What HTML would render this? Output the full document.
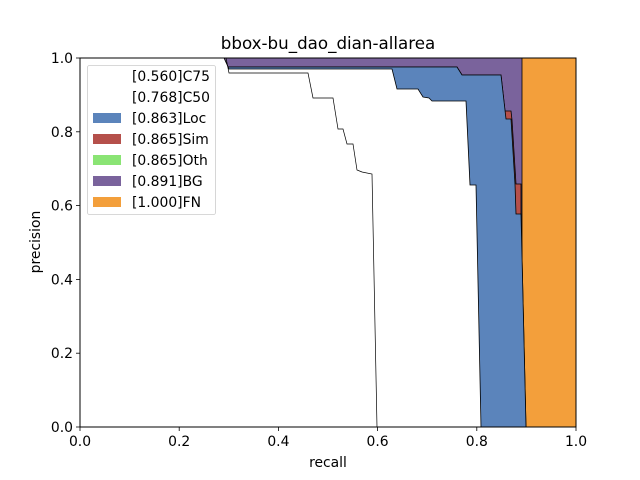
<!DOCTYPE html>
<html><head><meta charset="utf-8"><style>body{margin:0;background:#fff}svg{display:block}text{font-family:"DejaVu Sans","Liberation Sans",sans-serif;fill:#000}</style></head><body>
<svg width="640" height="480" viewBox="0 0 640 480">
<rect x="80" y="58" width="496" height="369" fill="#f39f3b"/>
<polygon points="80,58 522,58 522,427 80,427" fill="#7a639c" stroke="#000" stroke-width="0.8"/>
<polygon points="80,427 80,58 224,58 228,67 457,67 462,75 501,75 505,111 511,111 512,120 516,184 521,184 521,214 526,427" fill="#b5504b" stroke="#000" stroke-width="0.8"/>
<polygon points="80,427 80,58 224,58 228,67 457,67 462,75 501,75 506,119 511,119 515,184 516,214 521,214 526,427" fill="#5b84bb" stroke="#000" stroke-width="0.8"/>
<polygon points="80,427 80,58 224,58 229,69 392,69 397,89 418,89 423,97 429,98 432,101 466,101 470,185 476,185 481,427" fill="#fff" stroke="#000" stroke-width="0.8"/>
<polyline points="226,58 229,73 308,73 313,98 333,98 338,129 343,129 347,144 353,144 357,170 362,172 372,174 377,427" fill="none" stroke="#000" stroke-width="0.7"/>
<rect x="80" y="58" width="496" height="369" fill="none" stroke="#000" stroke-width="1"/>
<g stroke="#000" stroke-width="0.8">
<line x1="80" y1="427" x2="80" y2="431"/><line x1="179.2" y1="427" x2="179.2" y2="431"/><line x1="278.4" y1="427" x2="278.4" y2="431"/><line x1="377.6" y1="427" x2="377.6" y2="431"/><line x1="476.8" y1="427" x2="476.8" y2="431"/><line x1="576" y1="427" x2="576" y2="431"/>
<line x1="76" y1="427" x2="80" y2="427"/><line x1="76" y1="353.2" x2="80" y2="353.2"/><line x1="76" y1="279.4" x2="80" y2="279.4"/><line x1="76" y1="205.6" x2="80" y2="205.6"/><line x1="76" y1="131.8" x2="80" y2="131.8"/><line x1="76" y1="58" x2="80" y2="58"/>
</g>
<g font-size="13.9" text-anchor="middle">
<text x="80" y="446">0.0</text><text x="179.2" y="446">0.2</text><text x="278.4" y="446">0.4</text><text x="377.6" y="446">0.6</text><text x="476.8" y="446">0.8</text><text x="576" y="446">1.0</text>
</g>
<g font-size="13.9" text-anchor="end">
<text x="73" y="432">0.0</text><text x="73" y="358.2">0.2</text><text x="73" y="284.4">0.4</text><text x="73" y="210.6">0.6</text><text x="73" y="136.8">0.8</text><text x="73" y="63">1.0</text>
</g>
<text x="328" y="467" font-size="13.9" text-anchor="middle">recall</text>
<text transform="translate(40,242) rotate(-90)" font-size="13.9" text-anchor="middle">precision</text>
<text x="328" y="49" font-size="16.7" text-anchor="middle">bbox-bu_dao_dian-allarea</text>
<rect x="87.5" y="65.5" width="128" height="149" rx="2" fill="#fff" fill-opacity="0.85" stroke="#ccc" stroke-width="0.8"/>
<rect x="93" y="113" width="28" height="10" fill="#5b84bb"/>
<rect x="93" y="134" width="28" height="10" fill="#b5504b"/>
<rect x="93" y="155" width="28" height="10" fill="#8ae474"/>
<rect x="93" y="176" width="28" height="10" fill="#7a639c"/>
<rect x="93" y="197" width="28" height="10" fill="#f39f3b"/>
<g font-size="13.9">
<text x="132" y="81">[0.560]C75</text>
<text x="132" y="102">[0.768]C50</text>
<text x="132" y="123">[0.863]Loc</text>
<text x="132" y="144">[0.865]Sim</text>
<text x="132" y="165">[0.865]Oth</text>
<text x="132" y="186">[0.891]BG</text>
<text x="132" y="207">[1.000]FN</text>
</g>
</svg>
</body></html>
